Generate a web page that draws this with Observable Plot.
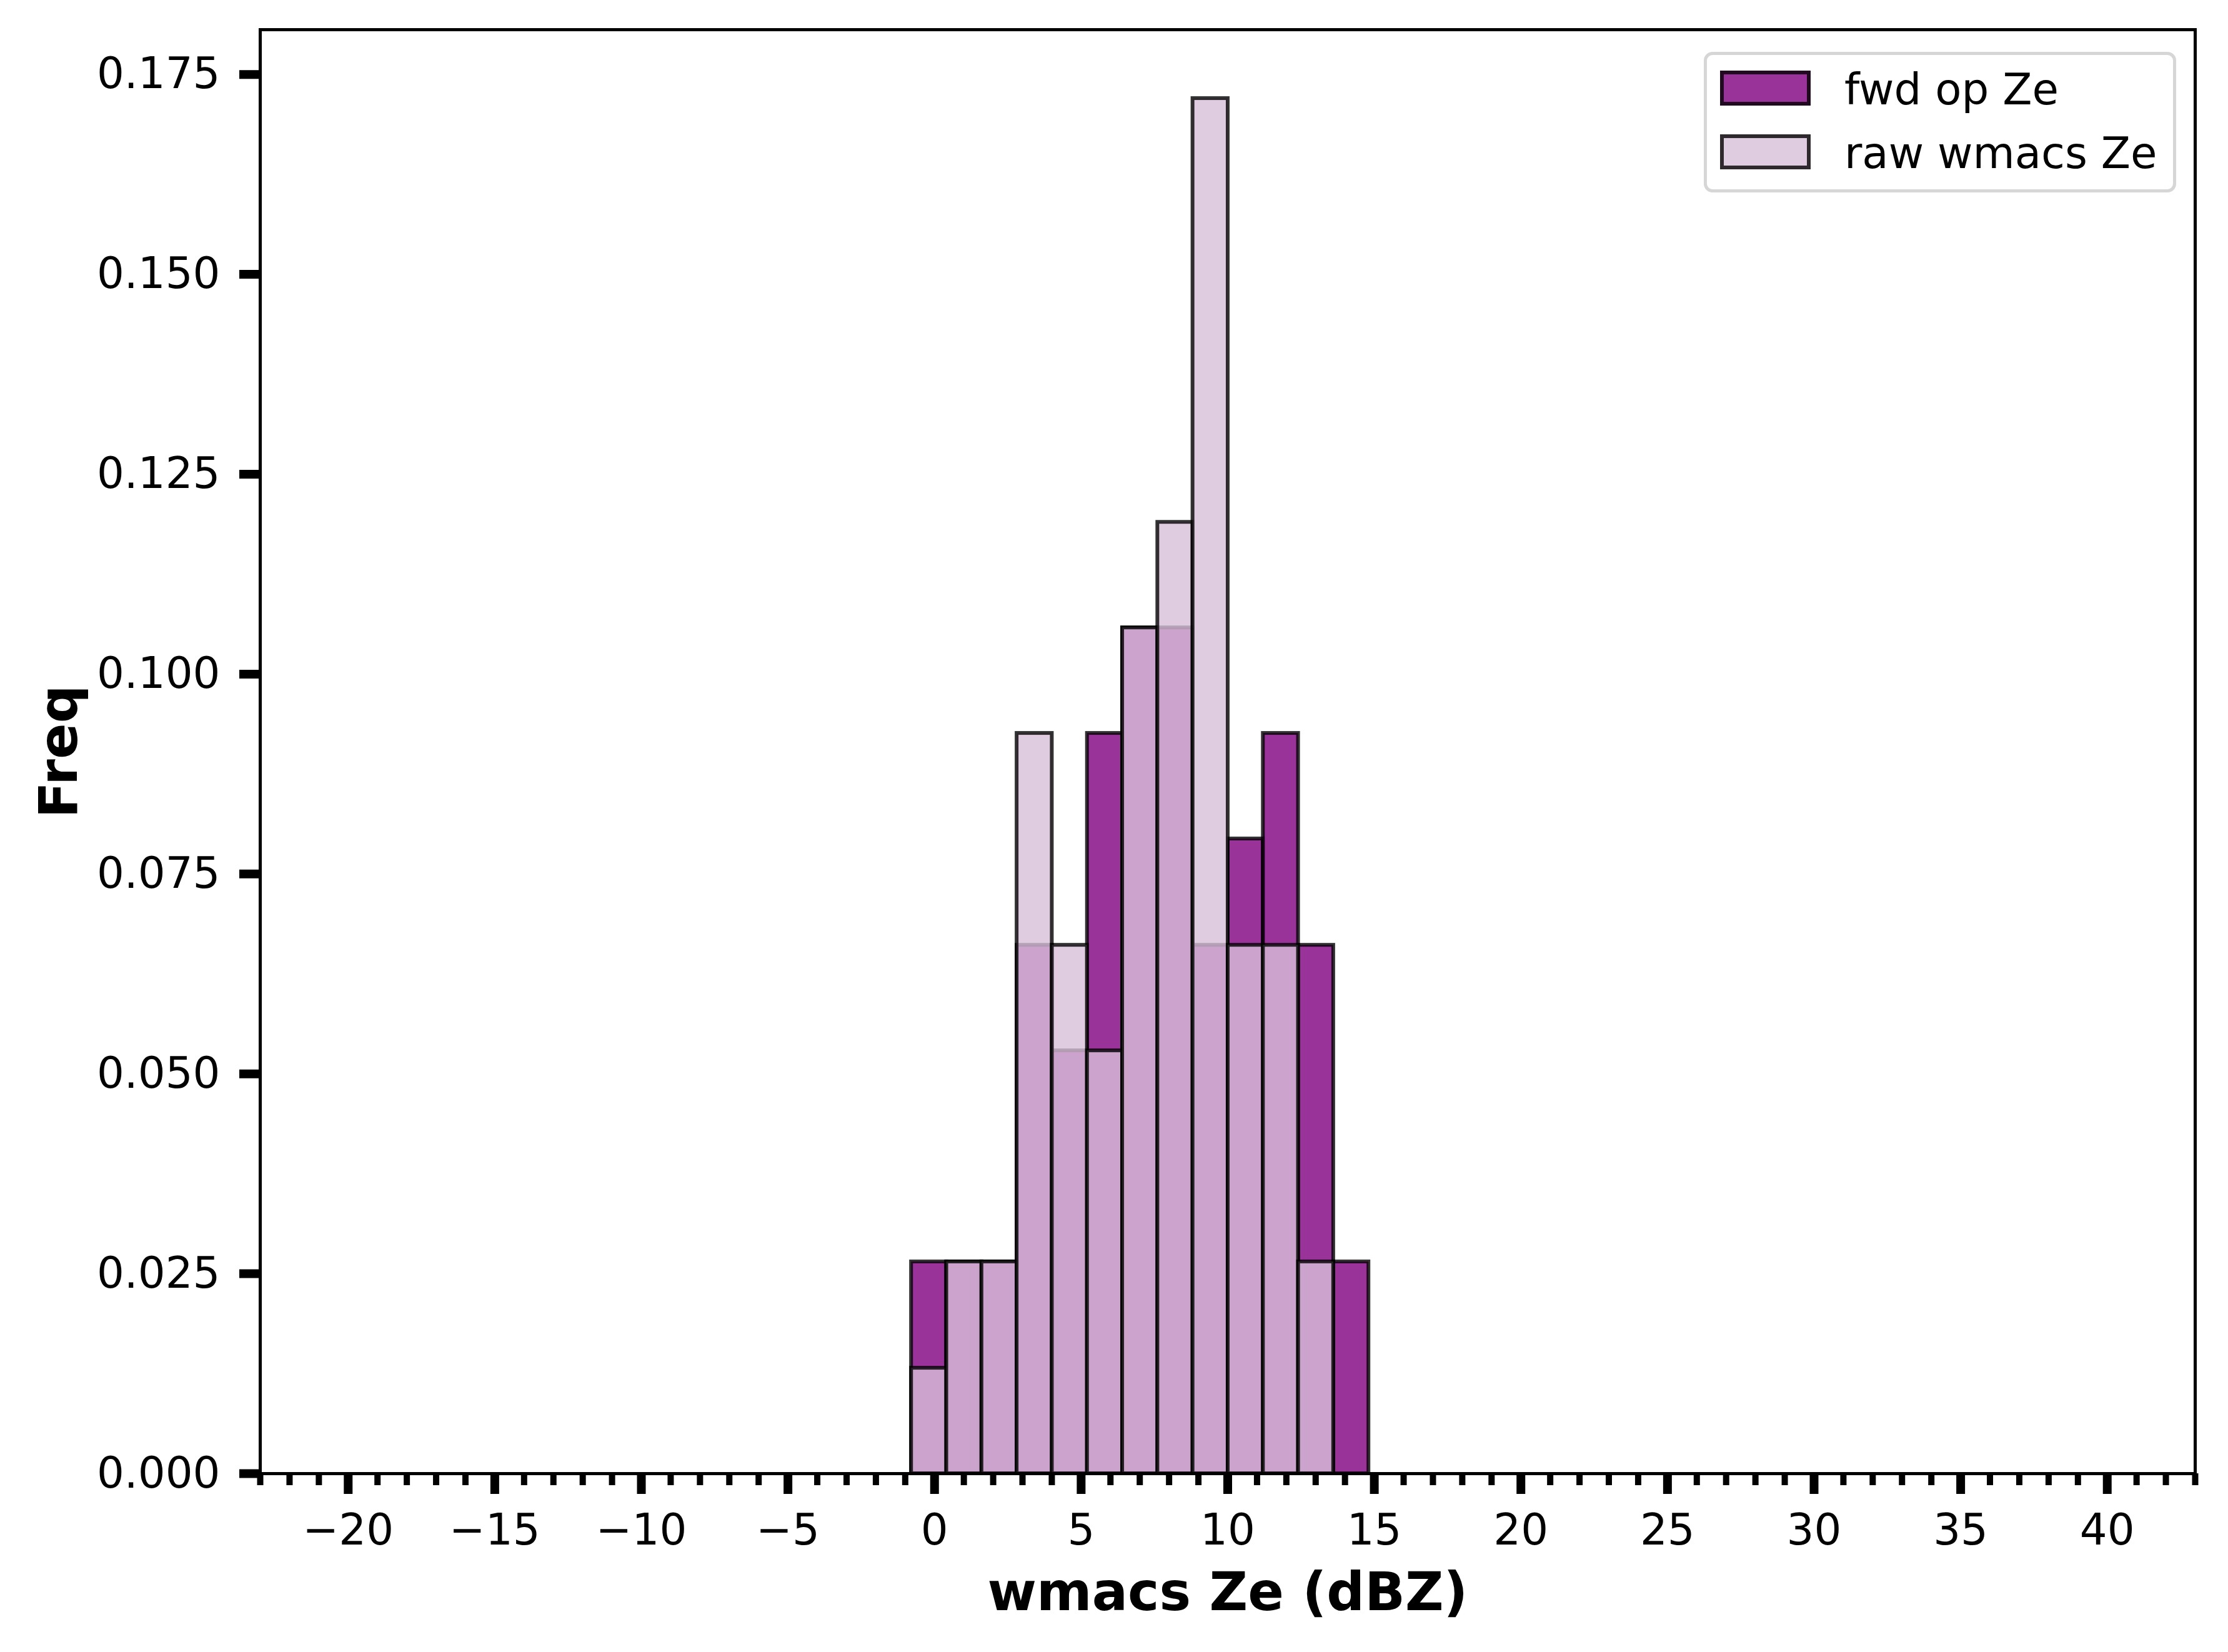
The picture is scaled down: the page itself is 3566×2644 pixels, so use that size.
<!DOCTYPE html>
<html>
<head>
<meta charset="utf-8">
<script src="https://cdn.jsdelivr.net/npm/d3@7"></script>
<script src="https://cdn.jsdelivr.net/npm/@observablehq/plot@0.6"></script>
<style>
  html, body { margin: 0; padding: 0; background: white; }
  #wrap { position: relative; width: 3566px; height: 2644px; }
  #legend {
    position: absolute; left: 2727px; top: 83px; width: 756px; height: 225px;
    box-sizing: border-box; border: 5px solid #d6d6d6; border-radius: 14px; background: rgba(255,255,255,0.8);
    font-family: "DejaVu Sans", sans-serif; font-size: 69px; color: black;
  }
  .row { position: absolute; left: 0; height: 56px; }
  .sw { position: absolute; left: 21px; width: 145px; height: 56px; box-sizing: border-box; border: 6px solid rgba(0,0,0,0.8); }
  .lab { position: absolute; left: 220px; white-space: nowrap; line-height: 1; }
</style>
</head>
<body>
<div id="wrap"></div>
<script>
// Bin edges (dBZ) of the histogram
const binLeft  = [-0.79, 0.41, 1.61, 2.81, 4.01, 5.21, 6.41, 7.61, 8.81, 10.01, 11.21, 12.41, 13.61];
const binRight = [0.41, 1.61, 2.81, 4.01, 5.21, 6.41, 7.61, 8.81, 10.01, 11.21, 12.41, 13.61, 14.81];
// Frequencies (density) per bin
const fwdFreq = [0.0265, 0.0265, 0.0265, 0.0661, 0.0529, 0.0926, 0.1058, 0.1058, 0.0661, 0.0794, 0.0926, 0.0661, 0.0265];
const rawFreq = [0.0132, 0.0265, 0.0265, 0.0926, 0.0661, 0.0529, 0.1058, 0.1190, 0.1720, 0.0661, 0.0661, 0.0265, 0.0];
const seriesNames = ["fwd op Ze", "raw wmacs Ze"];
const seriesColors = ["purple", "thistle"];
// Axis ticks
const xMajorTicks = [-20, -15, -10, -5, 0, 5, 10, 15, 20, 25, 30, 35, 40];
const xMinorTicks = d3.range(-23, 44);
const yTicks = [0, 0.025, 0.05, 0.075, 0.1, 0.125, 0.15, 0.175];
const xLabel = "wmacs Ze (dBZ)";
const yLabel = "Freq";

const fwdData = binLeft.map((l, i) => ({x1: l, x2: binRight[i], f: fwdFreq[i]}));
const rawData = binLeft.map((l, i) => ({x1: l, x2: binRight[i], f: rawFreq[i]})).filter(d => d.f > 0);

const chart = Plot.plot({
  width: 3566,
  height: 2644,
  marginLeft: 416,
  marginRight: 53,
  marginTop: 47,
  marginBottom: 286,
  style: {fontFamily: "DejaVu Sans, sans-serif", fontSize: "69px", background: "white", overflow: "visible", color: "black"},
  x: {domain: [-23, 43]},
  y: {domain: [0, 0.1806]},
  marks: [
    Plot.rect(fwdData, {x1: "x1", x2: "x2", y1: 0, y2: "f", fill: seriesColors[0], fillOpacity: 0.8, stroke: "black", strokeOpacity: 0.8, strokeWidth: 6}),
    Plot.rect(rawData, {x1: "x1", x2: "x2", y1: 0, y2: "f", fill: seriesColors[1], fillOpacity: 0.8, stroke: "black", strokeOpacity: 0.8, strokeWidth: 6}),
    Plot.frame({stroke: "black", strokeWidth: 5}),
    Plot.axisX({ticks: xMinorTicks, tickSize: 19, strokeWidth: 10, tickFormat: null, label: null, text: null}),
    Plot.axisX({ticks: xMajorTicks, tickSize: 33, strokeWidth: 14, tickPadding: 31, fontSize: 69, label: null,
      tickFormat: d => d < 0 ? "\u2212" + Math.abs(d) : String(d)}),
    Plot.axisY({ticks: yTicks, tickSize: 33, strokeWidth: 14, tickPadding: 31, fontSize: 69, label: null,
      tickFormat: d3.format(".3f")}),
    Plot.text([xLabel], {frameAnchor: "bottom", dy: 191, lineAnchor: "middle", textAnchor: "middle", fontSize: 85, fontWeight: "bold", text: d => d}),
    Plot.text([yLabel], {frameAnchor: "left", dx: -321, rotate: -90, lineAnchor: "middle", textAnchor: "middle", fontSize: 85, fontWeight: "bold", text: d => d})
  ]
});

const wrap = document.getElementById("wrap");
wrap.appendChild(chart);

const legend = document.createElement("div");
legend.id = "legend";
const rowTops = [25, 127];
const swFill = ["rgba(128,0,128,0.8)", "rgba(216,191,216,0.8)"];
seriesNames.forEach((name, i) => {
  const row = document.createElement("div");
  row.className = "row";
  row.style.top = rowTops[i] + "px";
  const sw = document.createElement("div");
  sw.className = "sw";
  sw.style.background = swFill[i];
  const lab = document.createElement("div");
  lab.className = "lab";
  lab.style.top = "-4px";
  lab.textContent = name;
  row.appendChild(sw);
  row.appendChild(lab);
  legend.appendChild(row);
});
wrap.appendChild(legend);
</script>
</body>
</html>
